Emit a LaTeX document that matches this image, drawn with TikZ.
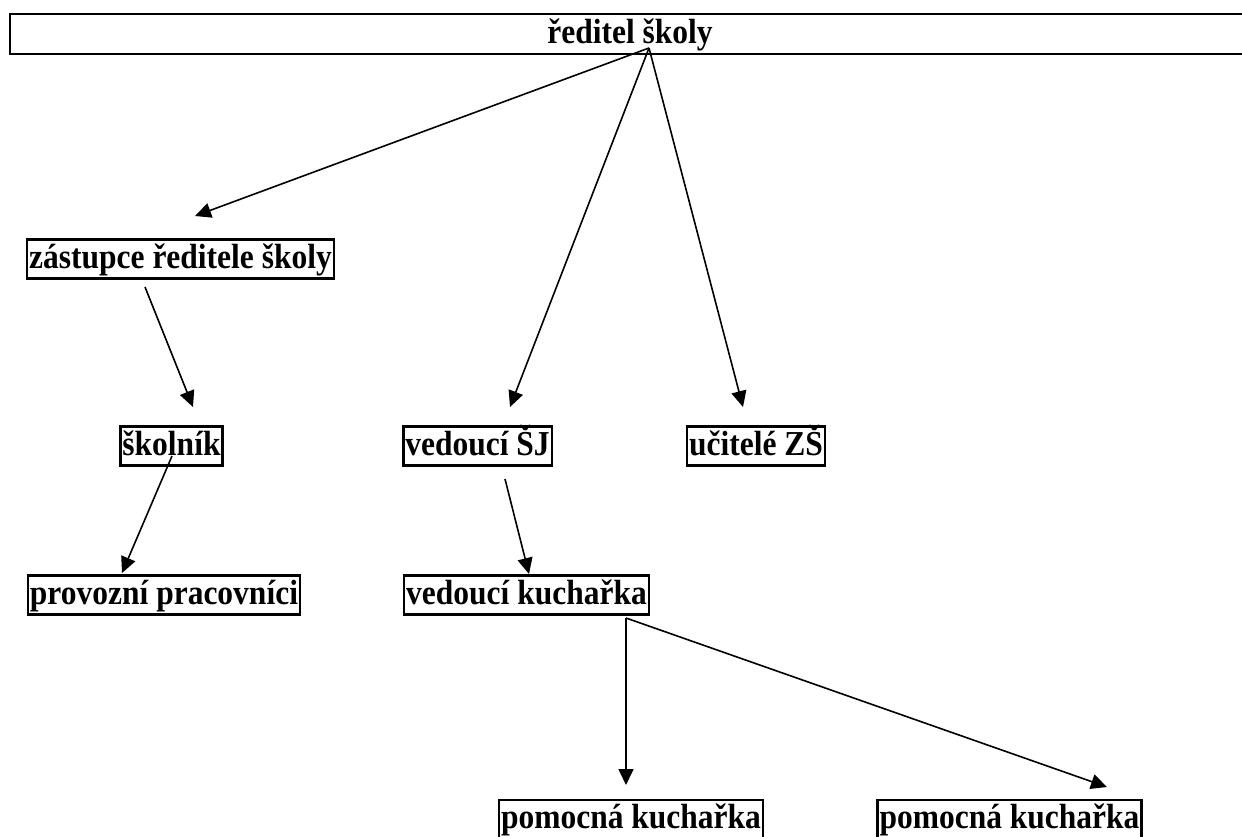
\documentclass[tikz,border=0pt]{standalone}
\usepackage{fontspec}
\setmainfont{Liberation Serif}[FakeStretch=0.9]
\usetikzlibrary{arrows.meta}

\begin{document}
\begin{tikzpicture}[x=1pt,y=-1pt,
  box/.style={draw,line width=2.4pt,font=\bfseries\fontsize{35}{40}\selectfont,
    inner xsep=2pt,inner ysep=1.5pt,text height=27pt,text depth=9pt},
  arr/.style={line width=1.6pt,-{Triangle[length=16pt,width=15pt]}}]
  \fill[white] (0,0) rectangle (1242,836);
  \useasboundingbox (0,0) rectangle (1242,836);
  % boxes
  \node[box,minimum width=1240pt,minimum height=40pt] (reditel) at (630,34) {ředitel školy};
  \node[box] (zastupce) at (180.5,259) {zástupce ředitele školy};
  \node[box] (skolnik) at (171.5,446) {školník};
  \node[box] (vedSJ) at (477.5,446) {vedoucí ŠJ};
  \node[box] (ucitele) at (756,446) {učitelé ZŠ};
  \node[box] (provozni) at (164,595) {provozní pracovníci};
  \node[box] (vedKuch) at (526.5,595) {vedoucí kuchařka};
  \node[box] (pomKuch1) at (631,819.5) {pomocná kuchařka};
  \node[box] (pomKuch2) at (1009.5,819.5) {pomocná kuchařka};
  % ends of the arrows
  \coordinate (r0) at (649,48);
  \coordinate (zIn) at (195,216);
  \coordinate (zOut) at (145,287);
  \coordinate (sIn) at (193,407);
  \coordinate (sOut) at (172,456);
  \coordinate (pIn) at (122,573);
  \coordinate (vIn) at (510,407);
  \coordinate (vOut) at (505,479);
  \coordinate (uIn) at (743,407);
  \coordinate (kIn) at (529,574);
  \coordinate (kOut) at (626,618);
  \coordinate (k1In) at (626,785);
  \coordinate (k2In) at (1107,787);
  % arrows
  \draw[arr] (r0) -- (zIn);
  \draw[arr] (r0) -- (vIn);
  \draw[arr] (r0) -- (uIn);
  \draw[arr] (zOut) -- (sIn);
  \draw[arr] (sOut) -- (pIn);
  \draw[arr] (vOut) -- (kIn);
  \draw[arr] (kOut) -- (k1In);
  \draw[arr] (kOut) -- (k2In);
\end{tikzpicture}
\end{document}
